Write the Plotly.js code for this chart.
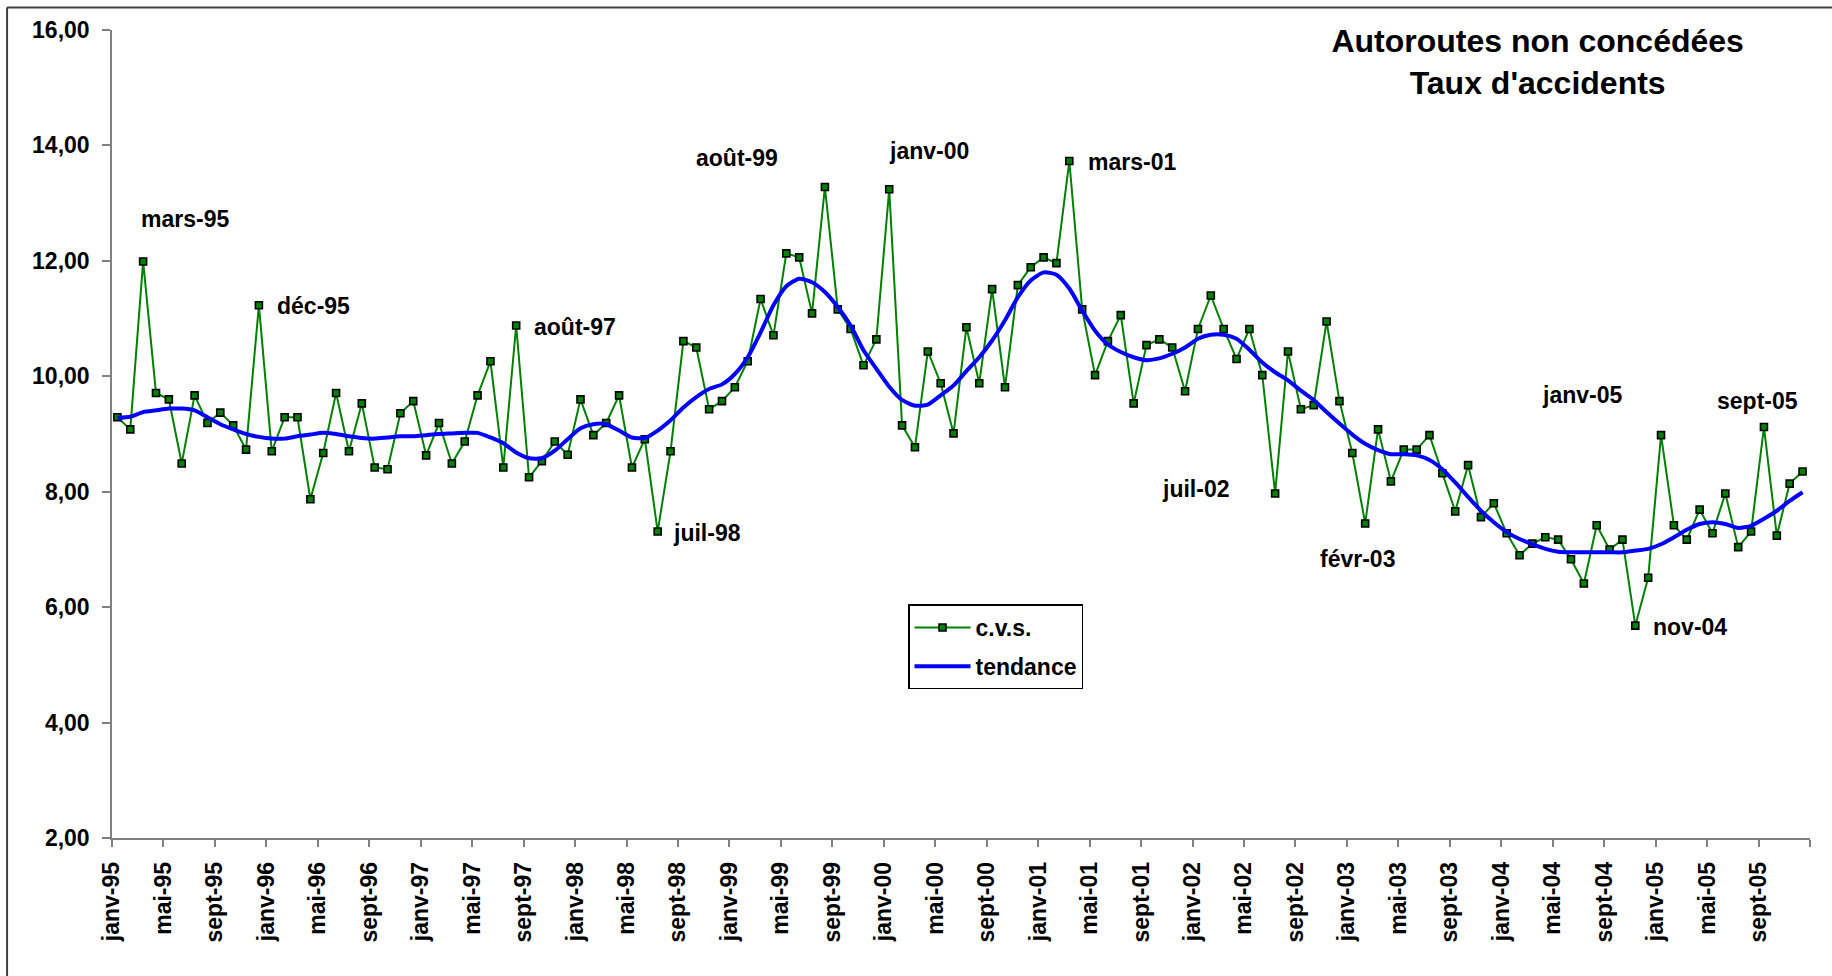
<!DOCTYPE html>
<html>
<head>
<meta charset="utf-8">
<script src="https://cdn.plot.ly/plotly-3.0.1.min.js"></script>
<style>
  html, body { margin: 0; padding: 0; background: #ffffff; }
  #chart { width: 1832px; height: 976px; }
</style>
</head>
<body>
<div id="chart"></div>
<script>
// ---------- DATA ----------
const monthNames = ['janv', 'févr', 'mars', 'avr', 'mai', 'juin', 'juil', 'août', 'sept', 'oct', 'nov', 'déc'];
const startYear = 1995;

// Taux d'accidents, série corrigée des variations saisonnières (janv-95 .. déc-05)
const cvs = [
  9.29, 9.08, 11.99, 9.71, 9.60, 8.49, 9.67, 9.19, 9.37, 9.15, 8.73, 11.23,
  8.70, 9.29, 9.29, 7.87, 8.67, 9.71, 8.70, 9.53, 8.42, 8.39, 9.36, 9.57,
  8.63, 9.19, 8.49, 8.87, 9.67, 10.26, 8.42, 10.88, 8.25, 8.53, 8.87, 8.64,
  9.60, 8.98, 9.19, 9.67, 8.42, 8.91, 7.31, 8.70, 10.61, 10.50, 9.43, 9.57,
  9.81, 10.26, 11.34, 10.71, 12.13, 12.06, 11.09, 13.28, 11.16, 10.82, 10.19, 10.64,
  13.24, 9.15, 8.77, 10.43, 9.88, 9.01, 10.85, 9.88, 11.51, 9.81, 11.58, 11.89,
  12.06, 11.96, 13.73, 11.16, 10.02, 10.61, 11.06, 9.53, 10.54, 10.64, 10.50, 9.74,
  10.82, 11.40, 10.82, 10.30, 10.82, 10.02, 7.97, 10.43, 9.43, 9.50, 10.95, 9.57,
  8.67, 7.45, 9.08, 8.18, 8.73, 8.73, 8.98, 8.32, 7.66, 8.46, 7.56, 7.80,
  7.28, 6.90, 7.10, 7.21, 7.17, 6.83, 6.41, 7.42, 7.00, 7.17, 5.68, 6.51,
  8.98, 7.42, 7.17, 7.69, 7.28, 7.97, 7.04, 7.31, 9.12, 7.24, 8.14, 8.35
];

// Tendance
const tendance = [
  9.28, 9.30, 9.38, 9.41, 9.44, 9.44, 9.41, 9.29, 9.17, 9.08, 9.00, 8.95,
  8.92, 8.92, 8.96, 8.99, 9.02, 9.00, 8.96, 8.93, 8.92, 8.94, 8.96, 8.96,
  8.98, 9.00, 9.01, 9.02, 9.02, 8.94, 8.84, 8.68, 8.58, 8.58, 8.71, 8.91,
  9.10, 9.17, 9.17, 9.06, 8.94, 8.93, 9.06, 9.24, 9.46, 9.64, 9.78, 9.86,
  10.04, 10.33, 10.76, 11.23, 11.56, 11.69, 11.63, 11.46, 11.20, 10.88, 10.45, 10.13,
  9.82, 9.59, 9.49, 9.51, 9.67, 9.84, 10.09, 10.33, 10.62, 10.97, 11.37, 11.66,
  11.80, 11.76, 11.52, 11.14, 10.79, 10.55, 10.42, 10.33, 10.28, 10.31, 10.39, 10.50,
  10.65, 10.72, 10.72, 10.65, 10.46, 10.24, 10.07, 9.93, 9.75, 9.59, 9.38, 9.18,
  8.99, 8.83, 8.72, 8.65, 8.65, 8.63, 8.55, 8.39, 8.16, 7.91, 7.67, 7.47,
  7.30, 7.18, 7.09, 7.01, 6.96, 6.95, 6.95, 6.95, 6.95, 6.95, 6.98, 7.01,
  7.09, 7.21, 7.34, 7.44, 7.47, 7.44, 7.37, 7.41, 7.53, 7.67, 7.84, 7.99
];

// Labels of the highlighted months (annotated on the chart)
const pointLabels = ['mars-95', 'déc-95', 'août-97', 'juil-98', 'août-99', 'janv-00',
                     'mars-01', 'juil-02', 'févr-03', 'nov-04', 'janv-05', 'sept-05'];

// ---------- BUILD ----------
function monthLabel(k) {
  const y = startYear + Math.floor(k / 12);
  return monthNames[k % 12] + '-' + String(y % 100).padStart(2, '0');
}
const n = cvs.length;
const POINT_OFFSET = 0.42;           // points sit slightly after the month tick
const xs = cvs.map((_, i) => i + POINT_OFFSET);
const labels = cvs.map((_, i) => monthLabel(i));

const tickvals = [], ticktext = [];
for (let k = 0; k <= n; k += 4) {
  tickvals.push(k);
  ticktext.push(k < n ? monthLabel(k) : '');
}

const FONT = 'Arial, "Liberation Sans", sans-serif';

const traces = [
  {
    x: xs, y: cvs, text: labels, name: 'c.v.s.', legendgroup: 'a',
    type: 'scatter', mode: 'lines+markers',
    line: { color: '#008000', width: 2 },
    marker: { symbol: 'square', size: 7, color: '#008000', line: { color: '#000000', width: 1.6 } },
    hovertemplate: '%{text}: %{y:.2f}<extra></extra>'
  },
  {
    x: xs, y: tendance, text: labels, name: 'tendance', legendgroup: 'b',
    type: 'scatter', mode: 'lines',
    line: { color: '#0000FF', width: 4, shape: 'spline', smoothing: 0.6 },
    hovertemplate: '%{text}: %{y:.2f}<extra></extra>'
  }
];

// annotation placement (data coords of label centres)
const annPos = [
  [5.67, 12.73], [15.66, 11.21], [36.03, 10.86], [46.29, 7.29], [48.62, 13.78], [63.54, 13.90],
  [79.32, 13.71], [84.26, 8.05], [96.81, 6.84], [122.70, 5.66], [114.26, 9.68], [127.90, 9.58]
];
const annotations = pointLabels.map((t, i) => ({
  text: t, x: annPos[i][0], y: annPos[i][1], xref: 'x', yref: 'y',
  showarrow: false, xanchor: 'center', yanchor: 'middle',
  font: { family: FONT, size: 23, color: '#000000', weight: 700 }
}));

const layout = {
  width: 1832, height: 976,
  margin: { l: 112, r: 22, t: 30, b: 138 },
  paper_bgcolor: '#ffffff', plot_bgcolor: '#ffffff',
  separators: ', ',
  showlegend: true,
  title: {
    text: 'Autoroutes non concédées<br>Taux d\'accidents',
    x: 0.8396, xref: 'paper', xanchor: 'center',
    y: 0.9466, yref: 'container', yanchor: 'top',
    font: { family: FONT, size: 32, color: '#000000', weight: 700 }
  },
  xaxis: {
    range: [0, n], tickmode: 'array', tickvals: tickvals, ticktext: ticktext,
    tickangle: -90, ticks: 'outside', ticklen: 7, tickwidth: 1.5, tickcolor: '#808080',
    showline: true, linecolor: '#808080', linewidth: 1.5,
    showgrid: false, zeroline: false,
    ticklabelstandoff: 6,
    tickfont: { family: FONT, size: 23, color: '#000000', weight: 700 }
  },
  yaxis: {
    range: [2, 16], dtick: 2, tick0: 2, tickformat: '.2f',
    ticks: 'outside', ticklen: 8, tickwidth: 1.5, tickcolor: '#808080',
    showline: true, linecolor: '#808080', linewidth: 1.5,
    showgrid: false, zeroline: false,
    ticklabelstandoff: 8,
    tickfont: { family: FONT, size: 23, color: '#000000', weight: 700 }
  },
  legend: {
    x: 0.4688, y: 0.289, xanchor: 'left', yanchor: 'top',
    bgcolor: '#ffffff', bordercolor: '#000000', borderwidth: 1.5,
    font: { family: FONT, size: 23, color: '#000000', weight: 700 },
    itemwidth: 56, tracegroupgap: 6
  },
  annotations: annotations,
  shapes: [
    { type: 'line', xref: 'paper', yref: 'paper', x0: -0.0618, x1: 1.2, y0: 1.028, y1: 1.028,
      line: { color: '#404040', width: 2 } },
    { type: 'line', xref: 'paper', yref: 'paper', x0: -0.0618, x1: -0.0618, y0: -0.3, y1: 1.028,
      line: { color: '#404040', width: 2 } }
  ]
};

Plotly.newPlot('chart', traces, layout, { displayModeBar: false, staticPlot: false });
</script>
</body>
</html>
